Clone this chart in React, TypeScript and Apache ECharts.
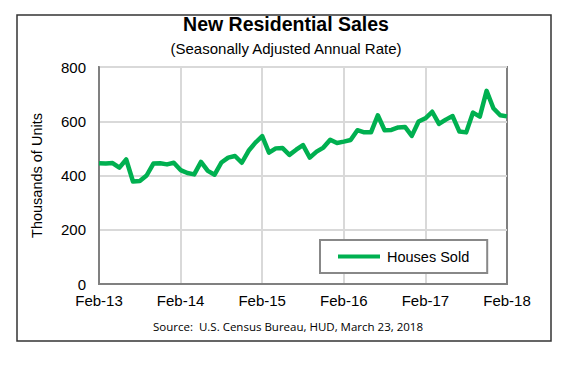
import React, { useEffect, useRef } from "react";
import * as echarts from "echarts";

const months: string[] = [
  "Feb-13","Mar-13","Apr-13","May-13","Jun-13","Jul-13","Aug-13","Sep-13","Oct-13","Nov-13","Dec-13",
  "Jan-14","Feb-14","Mar-14","Apr-14","May-14","Jun-14","Jul-14","Aug-14","Sep-14","Oct-14","Nov-14","Dec-14",
  "Jan-15","Feb-15","Mar-15","Apr-15","May-15","Jun-15","Jul-15","Aug-15","Sep-15","Oct-15","Nov-15","Dec-15",
  "Jan-16","Feb-16","Mar-16","Apr-16","May-16","Jun-16","Jul-16","Aug-16","Sep-16","Oct-16","Nov-16","Dec-16",
  "Jan-17","Feb-17","Mar-17","Apr-17","May-17","Jun-17","Jul-17","Aug-17","Sep-17","Oct-17","Nov-17","Dec-17",
  "Jan-18","Feb-18",
];

const housesSold: number[] = [
  445, 444, 446, 429, 459, 378, 380, 400, 444, 445, 441,
  447, 420, 409, 404, 450, 417, 403, 448, 466, 472, 447, 491,
  521, 545, 484, 500, 501, 476, 495, 512, 466, 488, 503, 532,
  520, 525, 531, 567, 559, 559, 622, 567, 568, 577, 579, 546,
  599, 611, 635, 590, 606, 619, 562, 559, 632, 617, 712, 648,
  622, 618,
];

const yTicks = { min: 0, max: 800, interval: 200 };

const FONT = "'Liberation Sans', Arial, sans-serif";

export default function App() {
  const ref = useRef<HTMLDivElement>(null);
  useEffect(() => {
    if (!ref.current) return;
    const chart = echarts.init(ref.current, null, { renderer: "svg" });
    chart.setOption({
      animation: false,
      backgroundColor: "#ffffff",
      title: [
        {
          text: "New Residential Sales",
          left: 273,
          textAlign: "center",
          top: 1,
          textStyle: { fontFamily: FONT, fontSize: 19.5, fontWeight: "bold", color: "#000" },
        },
        {
          text: "(Seasonally Adjusted Annual Rate)",
          left: 273,
          textAlign: "center",
          top: 28,
          textStyle: { fontFamily: FONT, fontSize: 15, fontWeight: "normal", color: "#000" },
        },
        {
          text: "Source:  U.S. Census Bureau, HUD, March 23, 2018",
          left: 275,
          textAlign: "center",
          top: 307,
          textStyle: { fontFamily: "'Open Sans', 'Noto Sans', sans-serif", fontSize: 11.5, fontWeight: "normal", color: "#000" },
        },
      ],
      graphic: [
        {
          type: "rect",
          shape: { x: 9, y: 7, width: 534, height: 326 },
          style: { fill: "none", stroke: "#333", lineWidth: 1.5 },
          z: -1,
        },
      ],
      legend: {
        data: ["Houses Sold"],
        left: 312,
        top: 232,
        itemWidth: 42,
        itemHeight: 4,
        itemGap: 10,
        padding: [9, 18, 9, 18],
        borderColor: "#888",
        borderWidth: 2,
        backgroundColor: "#fff",
        icon: "rect",
        textStyle: { fontFamily: FONT, fontSize: 14.5, color: "#000", padding: [0, 0, 0, 2] },
      },
      grid: { left: 91, right: 70, top: 59, bottom: 75, containLabel: false, show: true, borderColor: "#808080", borderWidth: 2 },
      xAxis: {
        type: "category",
        data: months,
        boundaryGap: false,
        axisLine: { show: true, lineStyle: { color: "#808080", width: 2 } },
        axisTick: { show: false },
        axisLabel: {
          interval: (i: number) => i % 12 === 0,
          showMaxLabel: true,
          fontFamily: FONT,
          fontSize: 15,
          color: "#000",
          margin: 9,
        },
        splitLine: {
          show: true,
          interval: (i: number) => i % 12 === 0 && i !== 0 && i !== months.length - 1,
          lineStyle: { color: "#d9d9d9", width: 2 },
        },
      },
      yAxis: {
        type: "value",
        min: yTicks.min,
        max: yTicks.max,
        interval: yTicks.interval,
        name: "Thousands of Units",
        nameLocation: "middle",
        nameGap: 55,
        nameTextStyle: { fontFamily: FONT, fontSize: 14.5, color: "#000" },
        axisLine: { show: true, lineStyle: { color: "#808080", width: 2 } },
        axisTick: { show: false },
        axisLabel: { fontFamily: FONT, fontSize: 15, color: "#000", margin: 13 },
        splitLine: { show: true, lineStyle: { color: "#d9d9d9", width: 2 } },
      },
      series: [
        {
          name: "Houses Sold",
          type: "line",
          data: housesSold,
          showSymbol: false,
          symbol: "none",
          lineStyle: { color: "#00b050", width: 4.5, join: "round" },
          itemStyle: { color: "#00b050" },
          z: 3,
        },
      ],
    });
    return () => chart.dispose();
  }, []);
  return <div ref={ref} style={{ width: 569, height: 351 }} />;
}
